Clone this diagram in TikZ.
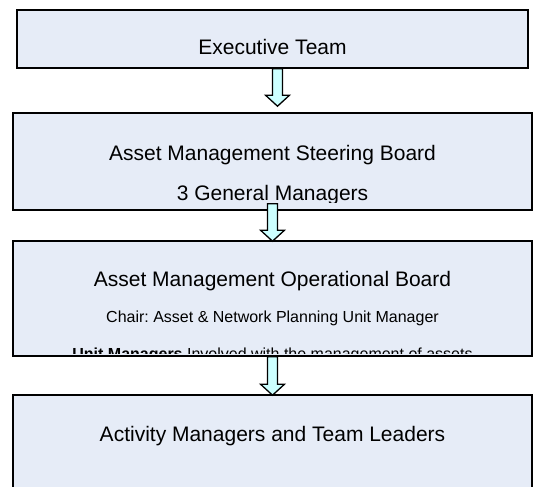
\documentclass[tikz,border=0pt]{standalone}
\usepackage{fontspec}
\setmainfont{Liberation Sans}
\usepackage{xcolor}
\usepackage{tikz}
\usetikzlibrary{calc}
\frenchspacing

\definecolor{boardFill}{RGB}{230,236,247}
\definecolor{arrowFill}{RGB}{204,255,255}

\newcommand{\blockArrow}[2]{%
	\draw[arrowbox] let \p1 = #1, \p2 = #2 in
		(\x1-5pt,\y1) -- (\x1+5pt,\y1) -- (\x1+5pt,\y2+11pt) -- (\x1+12pt,\y2+11pt)
		-- (\x1,\y2) -- (\x1-12pt,\y2+11pt) -- (\x1-5pt,\y2+11pt) -- cycle;}

\begin{document}
\begin{tikzpicture}[x = 1pt, y = -1pt,
		board/.style = {draw, line width = 1.6pt, fill = boardFill, inner sep = 0pt},
		arrowbox/.style = {draw, line width = 1.3pt, fill = arrowFill, line join = miter},
		big/.style = {anchor = base, inner sep = 0pt, font = \fontsize{21}{25}\selectfont},
		small/.style = {anchor = base, inner sep = 0pt, font = \fontsize{16}{19}\selectfont}]
		\def\midX{272.5}

		\useasboundingbox (0,0) rectangle (536,487);

		% the four boards
		\node[board, minimum width = 511pt, minimum height = 58pt] (exec) at (\midX,39) {};
		\node[board, minimum width = 519pt, minimum height = 97pt] (steer) at (\midX,161.5) {};
		\node[board, minimum width = 519pt, minimum height = 115pt] (oper) at (\midX,298.5) {};
		\node[board, minimum width = 519pt, minimum height = 110pt] (activity) at (\midX,450) {};

		\node[big] (execText) at (\midX,55) {Executive Team};

		\begin{scope}
			\clip (steer.north west) rectangle ($(steer.south east)+(0,-8)$);
			\node[big] (steerText) at (\midX,160) {Asset Management Steering Board};
			\node[big] (steerSub) at (\midX,200) {3 General Managers};
		\end{scope}

		\begin{scope}
			\clip (oper.north west) rectangle ($(oper.south east)+(0,-3)$);
			\node[big] (operText) at (\midX,286) {Asset Management Operational Board};
			\node[small] (operChair) at (\midX,322) {Chair: Asset \& Network Planning Unit Manager};
			\node[small] (operUnits) at (\midX,359) {\textbf{Unit Managers} Involved with the management of assets};
		\end{scope}

		\node[big] (activityText) at (\midX,441) {Activity Managers and Team Leaders};

		% arrows between the boards
		\blockArrow{($(exec.south)+(5,0)$)}{($(steer.north)+(5,-6)$)}
		\blockArrow{($(steer.south)+(0,-7)$)}{($(oper.north)+(0,1)$)}
		\blockArrow{($(oper.south)$)}{($(activity.north)+(0,1)$)}
	\end{tikzpicture}
\end{document}
